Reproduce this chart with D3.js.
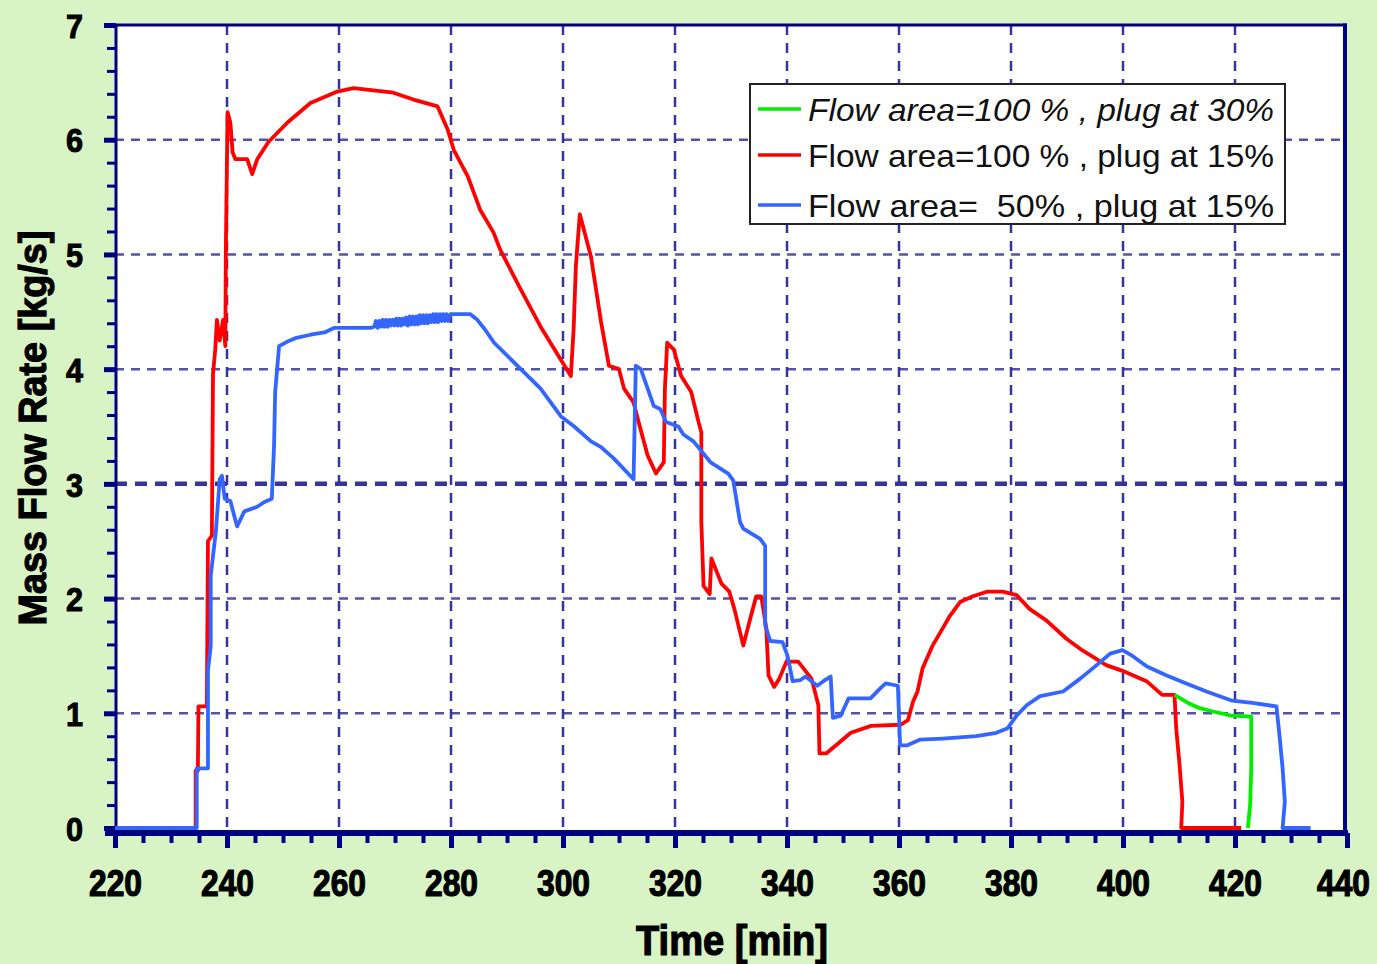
<!DOCTYPE html>
<html>
<head>
<meta charset="utf-8">
<script src="https://cdn.jsdelivr.net/npm/d3@7"></script>
<style>
  html, body { margin: 0; padding: 0; background: #d8f3c4; }
  svg { display: block; }
</style>
</head>
<body>
<svg id="chart" width="1377" height="964"></svg>
<script>
// Axis ticks
const xTickValues = [220, 240, 260, 280, 300, 320, 340, 360, 380, 400, 420, 440];
const yTickValues = [0, 1, 2, 3, 4, 5, 6, 7];

// Flow area = 100 %, plug at 30 %
const greenTime = [409.2, 411.6, 413.4, 415.7, 419.3, 422.9, 422.9, 422.7, 422.3];
const greenFlow = [1.16, 1.09, 1.05, 1.02, 0.98, 0.97, 0.52, 0.20, 0.00];

// Flow area = 100 %, plug at 15 %
const redTime = [220, 234.4, 234.4, 234.8, 234.9, 236.4, 236.6, 237.3, 237.5, 237.9, 238.2, 238.7, 239.3, 239.7,
  239.8, 240.1, 240.6, 241.0, 241.5, 243.6, 244.5, 245.4, 247.4, 250.8, 254.9, 259.7, 262.6, 269.7, 273.3,
  277.6, 279.4, 280.5, 283.0, 285.2, 287.6, 288.8, 292.4, 296.0, 301.4, 301.9, 302.3, 303.0, 305.0, 306.8,
  308.2, 310.0, 310.9, 312.6, 313.5, 315.1, 316.6, 318.0, 318.2, 318.6, 319.8, 321.1, 322.9, 324.2, 324.7,
  324.7, 325.1, 326.2, 326.5, 328.3, 329.7, 330.6, 332.2, 333.3, 334.5, 335.4, 336.3, 336.7, 337.7, 338.6,
  339.9, 342.0, 344.4, 345.6, 345.8, 347.0, 351.4, 355.0, 360.3, 361.6, 362.5, 363.3, 364.2, 366.0, 367.8,
  369.1, 370.9, 373.2, 375.7, 378.5, 381.0, 383.3, 386.3, 389.9, 392.7, 397.0, 399.9, 404.2, 407.0, 409.2,
  409.5, 410.1, 410.6, 410.4, 421.1];
const redFlow = [0, 0, 0.50, 0.50, 1.06, 1.06, 2.50, 2.55, 3.96, 4.17, 4.43, 4.25, 4.43, 4.20,
  5.06, 6.24, 6.15, 5.89, 5.83, 5.83, 5.70, 5.83, 5.98, 6.15, 6.32, 6.42, 6.45, 6.41, 6.35,
  6.29, 6.09, 5.91, 5.68, 5.39, 5.19, 5.04, 4.70, 4.37, 3.94, 4.35, 4.90, 5.35, 4.98, 4.41,
  4.03, 4.00, 3.83, 3.71, 3.54, 3.25, 3.09, 3.19, 3.83, 4.23, 4.17, 3.94, 3.80, 3.54, 3.45,
  2.67, 2.11, 2.04, 2.35, 2.13, 2.06, 1.91, 1.59, 1.80, 2.02, 2.02, 1.74, 1.33, 1.23, 1.30,
  1.45, 1.45, 1.30, 1.07, 0.65, 0.65, 0.83, 0.89, 0.90, 0.94, 1.10, 1.19, 1.39, 1.59, 1.74,
  1.85, 1.97, 2.02, 2.06, 2.06, 2.03, 1.91, 1.81, 1.65, 1.55, 1.42, 1.37, 1.28, 1.16, 1.16,
  0.87, 0.55, 0.23, 0.00, 0.00];

// Flow area = 50 %, plug at 15 %
const blueTime = [220, 234.6, 234.6, 236.6, 236.6, 236.6, 237.1, 237.1, 238.0, 238.7, 239.1, 239.6, 240.6,
  241.3, 241.8, 243.1, 245.4, 246.6, 248.0, 248.4, 248.6, 249.3, 250.8, 252.2, 254.9, 257.4, 259.2, 265.6,
  266.3, 266.6, 266.9, 267.2, 267.5, 267.8, 268.1, 268.4, 268.7, 269.0, 269.3, 269.6, 269.9, 270.2, 270.5,
  270.8, 271.1, 271.4, 271.7, 272.0, 272.3, 272.6, 272.9, 273.2, 273.5, 273.8, 274.1, 274.4, 274.7, 275.0,
  275.3, 275.6, 275.9, 276.2, 276.5, 276.8, 277.1, 277.4, 277.7, 278.0, 278.3, 278.6, 278.9, 279.2, 279.5,
  279.9, 283.4,
  284.7, 286.0, 287.7, 296.0, 299.6, 302.0, 305.0, 306.8, 309.1, 312.6, 313.0, 313.9, 316.2, 317.4, 318.4,
  320.6, 321.5, 323.3, 326.3, 329.5, 330.4, 331.6, 332.2, 335.2, 336.1, 336.1, 337.0, 339.2, 340.1, 341.0,
  342.4, 343.3, 345.4, 346.5, 347.8, 348.1, 348.2, 349.6, 351.0, 354.9, 356.7, 357.6, 359.8, 360.2, 361.4,
  363.7, 367.8, 373.8, 377.4, 379.4, 381.0, 382.8, 385.2, 389.3, 392.3, 395.3, 397.7, 399.9, 401.7, 404.2,
  407.8, 411.3, 414.9, 419.5, 423.1, 427.4, 428.0, 428.5, 428.9, 428.5, 433.5];
const blueFlow = [0, 0, 0.52, 0.52, 1.16, 1.37, 1.59, 2.20, 2.58, 3.04, 3.07, 2.87, 2.85,
  2.72, 2.63, 2.76, 2.80, 2.84, 2.87, 3.33, 3.80, 4.20, 4.24, 4.27, 4.30, 4.32, 4.36, 4.36,
  4.37, 4.42, 4.36, 4.42, 4.37, 4.43, 4.37, 4.43, 4.37, 4.43, 4.38, 4.43, 4.38, 4.44, 4.38,
  4.44, 4.38, 4.44, 4.39, 4.45, 4.38, 4.46, 4.39, 4.46, 4.39, 4.46, 4.39, 4.47, 4.40, 4.47,
  4.40, 4.47, 4.40, 4.47, 4.41, 4.48, 4.41, 4.48, 4.41, 4.48, 4.42, 4.48, 4.42, 4.48, 4.42,
  4.48, 4.48,
  4.43, 4.35, 4.23, 3.83, 3.59, 3.50, 3.37, 3.32, 3.22, 3.04, 4.03, 4.00, 3.68, 3.65, 3.54,
  3.50, 3.43, 3.37, 3.19, 3.09, 3.03, 2.67, 2.61, 2.52, 2.46, 1.77, 1.63, 1.62, 1.50, 1.28,
  1.29, 1.32, 1.24, 1.28, 1.32, 1.04, 0.96, 0.98, 1.13, 1.13, 1.22, 1.26, 1.24, 0.72, 0.72,
  0.77, 0.78, 0.80, 0.83, 0.87, 0.98, 1.07, 1.15, 1.19, 1.30, 1.42, 1.52, 1.55, 1.50, 1.41,
  1.33, 1.26, 1.19, 1.11, 1.09, 1.06, 0.78, 0.52, 0.23, 0.00, 0.00];

const legendLabels = [
  "Flow area=100 % , plug at 30%",
  "Flow area=100 % , plug at 15%",
  "Flow area=  50% , plug at 15%"
];
const seriesColors = ["#00ee00", "#ff0000", "#3366ff"];

const W = 1377, H = 964;
const navy = "#000080";
const gridColor = "#34349a";
const labelFont = "'Liberation Sans', Arial, sans-serif";
const axisY = 833;

const svg = d3.select("#chart");
const x = d3.scaleLinear().domain([220, 440]).range([115, 1347]);
const y = d3.scaleLinear().domain([0, 7]).range([828, 25]);

// Backgrounds
svg.append("rect").attr("width", W).attr("height", H).attr("fill", "#d8f3c4");
svg.append("rect")
  .attr("x", x(220)).attr("y", y(7))
  .attr("width", x(440) - x(220)).attr("height", axisY - y(7))
  .attr("fill", "#ffffff");

// Dashed grid
const grid = svg.append("g");
grid.selectAll("line.v")
  .data(xTickValues.filter(v => v > 220 && v < 440))
  .join("line").attr("class", "v")
  .attr("x1", d => x(d)).attr("x2", d => x(d))
  .attr("y1", y(7)).attr("y2", axisY)
  .attr("stroke", gridColor).attr("stroke-width", 2.5)
  .attr("stroke-dasharray", "10,8");
grid.selectAll("line.h")
  .data(yTickValues.filter(v => v > 0 && v < 7))
  .join("line").attr("class", "h")
  .attr("x1", x(220)).attr("x2", x(440))
  .attr("y1", d => y(d)).attr("y2", d => y(d))
  .attr("stroke", gridColor)
  .attr("stroke-opacity", d => d === 3 ? 1 : 0.85)
  .attr("stroke-width", d => d === 3 ? 4.5 : 2.5)
  .attr("stroke-dasharray", d => d === 3 ? "12,8" : "9,7");

// Frame: top, right and left edges, bottom axis line
const frame = svg.append("g").attr("stroke", navy);
frame.append("line").attr("x1", 105).attr("x2", 1347).attr("y1", y(7)).attr("y2", y(7)).attr("stroke-width", 3);
frame.append("line").attr("x1", 1345).attr("x2", 1345).attr("y1", y(7) - 1.5).attr("y2", axisY + 3).attr("stroke-width", 4);
frame.append("line").attr("x1", 116).attr("x2", 116).attr("y1", y(7)).attr("y2", axisY).attr("stroke-width", 3);
frame.append("line").attr("x1", 105).attr("x2", 1348).attr("y1", axisY).attr("y2", axisY).attr("stroke-width", 6);

// Y axis ticks
const yMinor = d3.range(0, 7.001, 0.2).map(v => +v.toFixed(1)).filter(v => !yTickValues.includes(v));
const yMinorAxis = svg.append("g").attr("transform", "translate(116,0)")
  .call(d3.axisLeft(y).tickValues(yMinor).tickSize(9).tickSizeOuter(0).tickFormat(""));
yMinorAxis.select(".domain").remove();
yMinorAxis.selectAll(".tick line").attr("stroke", navy).attr("stroke-width", 3);

const yMajorAxis = svg.append("g").attr("transform", "translate(116,0)")
  .call(d3.axisLeft(y).tickValues(yTickValues).tickSize(12).tickSizeOuter(0).tickFormat(d3.format("d")));
yMajorAxis.select(".domain").remove();
yMajorAxis.selectAll(".tick line").attr("stroke", navy).attr("stroke-width", 5);
yMajorAxis.selectAll(".tick text")
  .attr("x", -33).attr("dy", "0.36em")
  .attr("fill", "#000").attr("stroke", "#000").attr("stroke-width", 1)
  .style("font-family", labelFont).style("font-weight", "bold").style("font-size", "34px")
  .attr("textLength", 17).attr("lengthAdjust", "spacingAndGlyphs");

// X axis ticks
const xMinor = d3.range(225, 440, 5).filter(v => !xTickValues.includes(v));
const xMinorAxis = svg.append("g").attr("transform", `translate(0,${axisY})`)
  .call(d3.axisBottom(x).tickValues(xMinor).tickSize(10).tickSizeOuter(0).tickFormat(""));
xMinorAxis.select(".domain").remove();
xMinorAxis.selectAll(".tick line").attr("stroke", navy).attr("stroke-width", 4);

const xMajorAxis = svg.append("g").attr("transform", `translate(0,${axisY})`)
  .call(d3.axisBottom(x).tickValues(xTickValues).tickSize(15).tickSizeOuter(0).tickFormat(d3.format("d")));
xMajorAxis.select(".domain").remove();
xMajorAxis.selectAll(".tick line").attr("stroke", navy).attr("stroke-width", 5);
xMajorAxis.selectAll(".tick text")
  .attr("x", d => d === 440 ? -4 : 0)
  .attr("y", 63).attr("dy", null)
  .attr("fill", "#000").attr("stroke", "#000").attr("stroke-width", 1.2)
  .style("font-family", labelFont).style("font-weight", "bold").style("font-size", "36px")
  .attr("textLength", 53).attr("lengthAdjust", "spacingAndGlyphs");

// Series, drawn above the axis line so the zero segments stay visible
const line = d3.line().x(d => x(d[0])).y(d => y(d[1]));
const series = [
  { t: redTime, f: redFlow, c: seriesColors[1] },
  { t: greenTime, f: greenFlow, c: seriesColors[0] },
  { t: blueTime, f: blueFlow, c: seriesColors[2] }
];
svg.append("g").selectAll("path")
  .data(series)
  .join("path")
  .attr("d", s => line(d3.zip(s.t, s.f)))
  .attr("fill", "none")
  .attr("stroke", s => s.c)
  .attr("stroke-width", 3.8)
  .attr("stroke-linejoin", "round");

// Axis titles
svg.append("text")
  .attr("x", 732).attr("y", 955)
  .attr("text-anchor", "middle")
  .attr("fill", "#000").attr("stroke", "#000").attr("stroke-width", 1.2)
  .style("font-family", labelFont).style("font-weight", "bold").style("font-size", "42px")
  .attr("textLength", 192).attr("lengthAdjust", "spacingAndGlyphs")
  .text("Time [min]");

svg.append("text")
  .attr("transform", "translate(46,428) rotate(-90)")
  .attr("text-anchor", "middle")
  .attr("fill", "#000").attr("stroke", "#000").attr("stroke-width", 1.2)
  .style("font-family", labelFont).style("font-weight", "bold").style("font-size", "38px")
  .attr("textLength", 395).attr("lengthAdjust", "spacingAndGlyphs")
  .text("Mass Flow Rate [kg/s]");

// Legend
const legend = svg.append("g");
legend.append("rect")
  .attr("x", 750).attr("y", 84).attr("width", 535).attr("height", 140)
  .attr("fill", "#ffffff").attr("stroke", "#222").attr("stroke-width", 2);
const rowY = [109, 155, 205];
const rows = legend.selectAll("g.row")
  .data(legendLabels)
  .join("g").attr("class", "row")
  .attr("transform", (d, i) => `translate(0,${rowY[i]})`);
rows.append("line")
  .attr("x1", 758).attr("x2", 801).attr("y1", 0).attr("y2", 0)
  .attr("stroke", (d, i) => seriesColors[i]).attr("stroke-width", 3.6);
rows.append("text")
  .attr("x", 808).attr("y", 12)
  .attr("fill", "#111")
  .style("font-family", labelFont).style("font-size", "32px")
  .style("font-style", (d, i) => i === 0 ? "italic" : "normal")
  .style("white-space", "pre")
  .attr("xml:space", "preserve")
  .attr("textLength", 466).attr("lengthAdjust", "spacingAndGlyphs")
  .text(d => d);
</script>
</body>
</html>
